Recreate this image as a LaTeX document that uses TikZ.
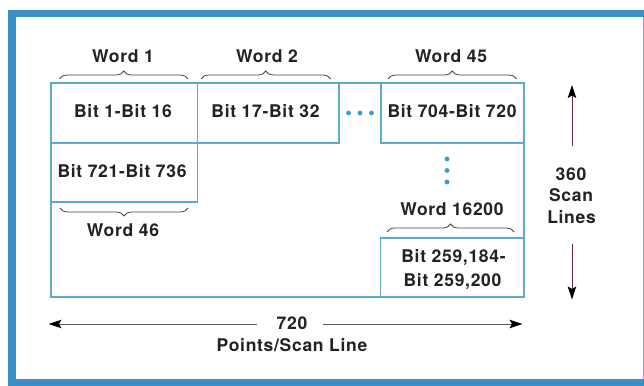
\documentclass[tikz,border=0pt]{standalone}
\usepackage{fontspec}
\setmainfont{TeX Gyre Heros}[LetterSpace=4]
\usetikzlibrary{arrows.meta,decorations.pathreplacing}
\definecolor{frameblue}{HTML}{3A90C6}
\definecolor{boxblue}{HTML}{5AAAD8}
\definecolor{dotblue}{HTML}{3D9AD1}
\definecolor{txt}{HTML}{222222}
\definecolor{bracegray}{HTML}{444444}
\definecolor{maroon}{HTML}{6A2344}
\definecolor{edgepurple}{HTML}{A898C8}
\tikzset{
  box/.style={draw=boxblue, line width=1.3pt, inner sep=0pt, outer sep=0pt},
  lbl/.style={font=\bfseries\fontsize{17.5}{21}\selectfont, text=txt, inner sep=0pt, anchor=base},
  brc/.style={draw=bracegray, line width=0.8pt, decorate, decoration={brace, amplitude=8pt}},
  bdot/.style={fill=dotblue, circle, inner sep=0pt, minimum size=4.8pt},
  varr/.style={draw=maroon, line width=1pt, -{Stealth[length=13pt,width=8.5pt,inset=2.5pt,color=black]}},
  harr/.style={draw=black!65, line width=1pt, -{Stealth[length=13pt,width=8.5pt,inset=2.5pt,color=black]}},
}
\begin{document}
\begin{tikzpicture}[x=1pt,y=-1pt]
\useasboundingbox (0,0) rectangle (644,385);
\clip (0,0) rectangle (644,385);
% frame
\fill[frameblue] (8,10) rectangle (660,400);
\fill[white] (15.5,17.5) rectangle (643,379);
\fill[edgepurple] (642.6,17.5) rectangle (643.6,379);

% boxes
\node[box, minimum width=473pt, minimum height=214pt] (grid) at (287.5,190) {};
\node[box, minimum width=146.5pt, minimum height=60pt] (b1) at (124.25,113) {};
\node[box, minimum width=141.5pt, minimum height=60pt] (b2) at (268.25,113) {};
\node[box, minimum width=143pt, minimum height=60pt] (b3) at (452.5,113) {};
\node[box, minimum width=146.5pt, minimum height=59pt] (b4) at (124.25,172.5) {};
\node[box, minimum width=143.5pt, minimum height=59pt] (b5) at (452.25,267.5) {};

% box texts
\node[lbl] (t1) at (123,117.5) {Bit 1-Bit 16};
\node[lbl] (t2) at (265.5,117.5) {Bit 17-Bit 32};
\node[lbl] (t3) at (452,117.5) {Bit 704-Bit 720};
\node[lbl] (t4) at (122,177) {Bit 721-Bit 736};
\node[lbl] (t5a) at (453.5,262) {Bit 259,184-};
\node[lbl] (t5b) at (452.5,286.7) {Bit 259,200};

% word labels
\node[lbl] (w1) at (123,63) {Word 1};
\node[lbl] (w2) at (267,63) {Word 2};
\node[lbl] (w45) at (451,63) {Word 45};
\node[lbl] (w46) at (123,236) {Word 46};
\node[lbl] (w16200) at (452,215.5) {Word 16200};

% braces
\coordinate (br1a) at (59.5,79);  \coordinate (br1b) at (188,79);
\coordinate (br2a) at (201,79);   \coordinate (br2b) at (330.5,79);
\coordinate (br3a) at (388,79);   \coordinate (br3b) at (516.5,79);
\coordinate (br4a) at (188,208);  \coordinate (br4b) at (60,208);
\coordinate (br5a) at (387,232);  \coordinate (br5b) at (514,232);
\draw[brc] (br1a) -- (br1b);
\draw[brc] (br2a) -- (br2b);
\draw[brc] (br3a) -- (br3b);
\draw[brc] (br4a) -- (br4b);
\draw[brc] (br5a) -- (br5b);

% dots
\node[bdot] (hd1) at (348.5,113) {};
\node[bdot] (hd2) at (360,113) {};
\node[bdot] (hd3) at (371.5,113) {};
\node[bdot] (vd1) at (447,159) {};
\node[bdot] (vd2) at (447,170.5) {};
\node[bdot] (vd3) at (447,182) {};

% scan lines
\node[lbl] (s1) at (571,180) {360};
\node[lbl] (s2) at (571,201.7) {Scan};
\node[lbl] (s3) at (571.5,223) {Lines};
\coordinate (va1) at (572,146); \coordinate (va2) at (572,85);
\coordinate (vb1) at (572,244); \coordinate (vb2) at (572,299.5);
\draw[varr] (va1) -- (va2);
\draw[varr] (vb1) -- (vb2);

% points per scan line
\node[lbl] (p1) at (292,329) {720};
\node[lbl] (p2) at (292,351.5) {Points/Scan Line};
\coordinate (ha1) at (257,324); \coordinate (ha2) at (48.5,324);
\coordinate (hb1) at (323,324); \coordinate (hb2) at (522.5,324);
\draw[harr] (ha1) -- (ha2);
\draw[harr] (hb1) -- (hb2);
\end{tikzpicture}
\end{document}
